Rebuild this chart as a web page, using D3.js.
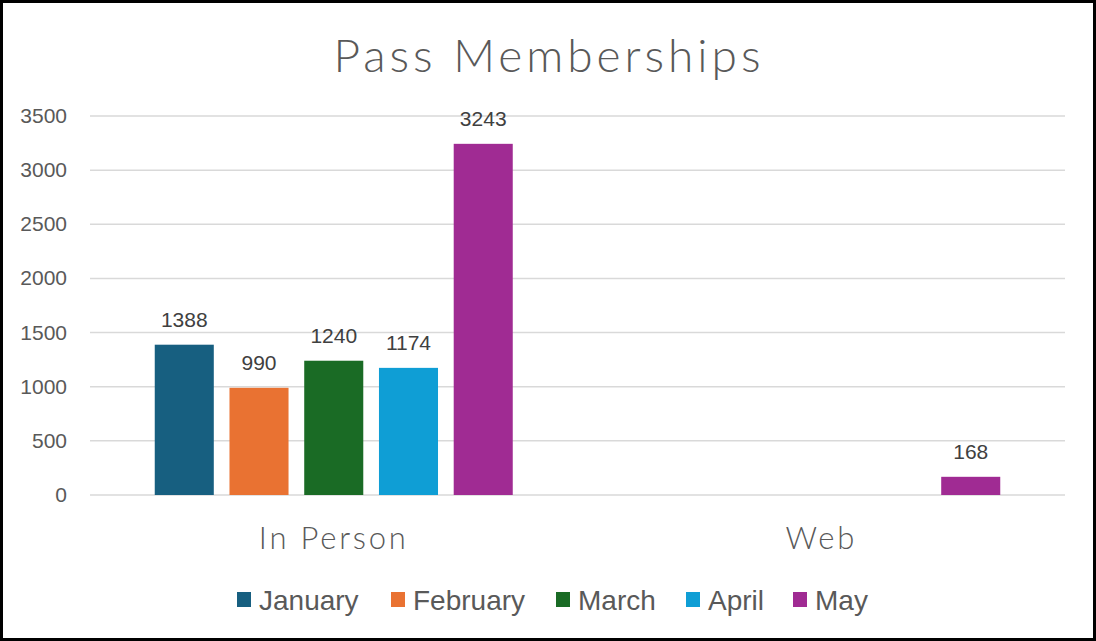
<!DOCTYPE html>
<html>
<head>
    <script src="https://cdn.jsdelivr.net/npm/d3@7/dist/d3.min.js"></script>
    <style>
        html, body {
            padding: 0;
            margin: 0;
            background: white;
        }
    </style>
</head>
<body>
<script>
    var width = 1096, height = 641;

    // data
    var channels = ["In Person", "Web"];
    var months = ["January", "February", "March", "April", "May"];
    var colors = ["#175f80", "#e97232", "#1a6b25", "#0f9ed5", "#a02b93"];
    var inPerson = [1388, 990, 1240, 1174, 3243];
    var web = [null, null, null, null, 168];
    var yTicks = [0, 500, 1000, 1500, 2000, 2500, 3000, 3500];

    var values = [inPerson, web];

    var svg = d3.select('body').append('svg')
        .attr('width', width)
        .attr('height', height);

    // outer frame
    svg.append('rect')
        .attr('x', 1.5).attr('y', 1.5)
        .attr('width', width - 3).attr('height', height - 3)
        .attr('fill', 'white')
        .attr('stroke', 'black')
        .attr('stroke-width', 3);

    var plotLeft = 90, plotRight = 1065, plotTop = 116, plotBottom = 495;

    var x0 = d3.scaleBand().domain(channels).range([plotLeft, plotRight]);
    var x1 = d3.scaleBand().domain(months)
        .range([-179, 179]).paddingInner(0.21).paddingOuter(0);
    var y = d3.scaleLinear().domain([0, 3500]).range([plotBottom, plotTop]);

    // title
    svg.append('text')
        .attr('x', 549).attr('y', 72)
        .attr('text-anchor', 'middle')
        .style('font-family', 'Lato, sans-serif')
        .style('font-weight', 300)
        .style('font-size', '46px')
        .style('letter-spacing', '4px')
        .attr('fill', '#595959')
        .text('Pass Memberships');

    // gridlines
    svg.selectAll('.grid').data(yTicks).enter().append('line')
        .attr('x1', plotLeft).attr('x2', plotRight)
        .attr('y1', function (d) { return y(d); })
        .attr('y2', function (d) { return y(d); })
        .attr('stroke', '#d9d9d9')
        .attr('stroke-width', 1.5);

    // y tick labels
    svg.selectAll('.ytick').data(yTicks).enter().append('text')
        .attr('x', 67)
        .attr('y', function (d) { return y(d) + 7; })
        .attr('text-anchor', 'end')
        .style('font-family', 'Liberation Sans, Arial, sans-serif')
        .style('font-size', '21px')
        .attr('fill', '#595959')
        .text(function (d) { return d; });

    // bars
    var groups = svg.selectAll('.grp').data(channels).enter().append('g')
        .attr('transform', function (d) { return 'translate(' + (x0(d) + x0.bandwidth() / 2) + ',0)'; });

    groups.each(function (c, ci) {
        var g = d3.select(this);
        var rows = months.map(function (m, i) { return { m: m, v: values[ci][i], c: colors[i] }; })
            .filter(function (d) { return d.v !== null; });

        g.selectAll('rect').data(rows).enter().append('rect')
            .attr('x', function (d) { return x1(d.m); })
            .attr('width', x1.bandwidth())
            .attr('y', function (d) { return y(d.v); })
            .attr('height', function (d) { return plotBottom - y(d.v); })
            .attr('fill', function (d) { return d.c; });

        g.selectAll('text').data(rows).enter().append('text')
            .attr('x', function (d) { return x1(d.m) + x1.bandwidth() / 2; })
            .attr('y', function (d) { return y(d.v) - 18; })
            .attr('text-anchor', 'middle')
            .style('font-family', 'Liberation Sans, Arial, sans-serif')
            .style('font-size', '21px')
            .attr('fill', '#404040')
            .text(function (d) { return d.v; });
    });

    // category labels
    svg.selectAll('.cat').data(channels).enter().append('text')
        .attr('x', function (d) { return x0(d) + x0.bandwidth() / 2; })
        .attr('y', 549)
        .attr('text-anchor', 'middle')
        .style('font-family', 'Lato, sans-serif')
        .style('font-weight', 300)
        .style('font-size', '31px')
        .style('letter-spacing', '2.8px')
        .attr('fill', '#595959')
        .text(function (d) { return d; });

    // legend
    var legendX = [237, 391, 556, 686, 793];
    var legend = svg.selectAll('.leg').data(months).enter().append('g')
        .attr('transform', function (d, i) { return 'translate(' + legendX[i] + ',600)'; });
    legend.append('rect')
        .attr('x', 0).attr('y', -8)
        .attr('width', 14).attr('height', 15)
        .attr('fill', function (d, i) { return colors[i]; });
    legend.append('text')
        .attr('x', 22).attr('y', 10)
        .style('font-family', 'Liberation Sans, Arial, sans-serif')
        .style('font-size', '28px')
        .attr('fill', '#595959')
        .text(function (d) { return d; });
</script>
</body>
</html>
